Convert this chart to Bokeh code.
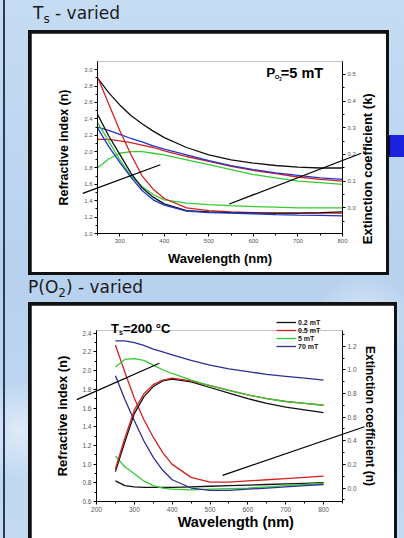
import math
from bokeh.plotting import figure
from bokeh.models import (Range1d, LinearAxis, FixedTicker, NumeralTickFormatter,
                          Label, Legend, LegendItem, Div, Column, Row, GridBox)
from bokeh.embed import file_html
from bokeh.resources import INLINE

# ---------------- Panel 1: Ts varied, P_O2 = 5 mT ----------------
wl1 = [250, 275, 300, 325, 350, 375, 400, 450, 500, 550, 600, 650, 700, 750, 800]
n_black1 = [2.90, 2.72, 2.57, 2.44, 2.34, 2.25, 2.17, 2.05, 1.96, 1.90, 1.86, 1.83, 1.81, 1.80, 1.80]
n_blue1 = [2.30, 2.26, 2.21, 2.16, 2.12, 2.07, 2.03, 1.96, 1.89, 1.83, 1.78, 1.74, 1.71, 1.68, 1.66]
n_red1 = [2.15, 2.15, 2.13, 2.11, 2.08, 2.05, 2.01, 1.94, 1.88, 1.82, 1.77, 1.73, 1.69, 1.66, 1.64]
n_green1 = [1.80, 1.91, 1.98, 2.00, 2.00, 1.98, 1.96, 1.90, 1.84, 1.78, 1.72, 1.68, 1.64, 1.62, 1.60]
k_red1 = [0.49, 0.39, 0.29, 0.20, 0.12, 0.07, 0.035, 0.0, -0.01, -0.015, -0.018, -0.02, -0.02, -0.02, -0.02]
k_black1 = [0.35, 0.27, 0.20, 0.13, 0.075, 0.04, 0.015, -0.01, -0.015, -0.018, -0.02, -0.02, -0.02, -0.018, -0.015]
k_blue1 = [0.30, 0.23, 0.17, 0.115, 0.065, 0.03, 0.01, -0.012, -0.018, -0.02, -0.022, -0.025, -0.027, -0.028, -0.03]
k_green1 = [0.32, 0.25, 0.18, 0.12, 0.08, 0.05, 0.03, 0.018, 0.012, 0.008, 0.005, 0.003, 0.0, 0.0, 0.0]

x_range1 = (250, 800)
n_range1 = (1.0, 3.10)
k_range1 = (-0.096, 0.548)
x_ticks1 = [300, 400, 500, 600, 700, 800]
x_minor1 = [250, 350, 450, 550, 650, 750]
n_ticks1 = [1.0, 1.2, 1.4, 1.6, 1.8, 2.0, 2.2, 2.4, 2.6, 2.8, 3.0]
n_minor1 = [1.1, 1.3, 1.5, 1.7, 1.9, 2.1, 2.3, 2.5, 2.7, 2.9]
k_ticks1 = [-0.1, 0.0, 0.1, 0.2, 0.3, 0.4, 0.5]
k_minor1 = [-0.05, 0.05, 0.15, 0.25, 0.35, 0.45]

# pointer lines (wavelength, n) panel 1
ptr1a_x = [217, 391]
ptr1a_y = [1.49, 1.84]
ptr1b_x = [546, 842]
ptr1b_y = [1.36, 1.98]

# ---------------- Panel 2: P(O2) varied, Ts = 200 C ----------------
wl2 = [250, 275, 300, 325, 350, 375, 400, 450, 500, 550, 600, 650, 700, 750, 800]
n_blue2 = [2.32, 2.32, 2.30, 2.27, 2.23, 2.20, 2.17, 2.11, 2.06, 2.02, 1.99, 1.96, 1.94, 1.92, 1.90]
n_green2 = [2.04, 2.12, 2.13, 2.11, 2.06, 2.01, 1.97, 1.90, 1.84, 1.79, 1.74, 1.70, 1.67, 1.65, 1.63]
n_red2 = [0.95, 1.28, 1.58, 1.75, 1.85, 1.90, 1.92, 1.89, 1.84, 1.79, 1.74, 1.70, 1.67, 1.65, 1.63]
n_black2 = [0.92, 1.24, 1.54, 1.72, 1.83, 1.89, 1.91, 1.88, 1.82, 1.76, 1.70, 1.65, 1.61, 1.58, 1.55]
k_red2 = [1.21, 0.98, 0.76, 0.58, 0.43, 0.30, 0.20, 0.09, 0.05, 0.05, 0.06, 0.07, 0.08, 0.09, 0.10]
k_blue2 = [0.95, 0.75, 0.57, 0.40, 0.26, 0.15, 0.07, 0.0, -0.02, -0.02, -0.01, 0.0, 0.01, 0.02, 0.03]
k_green2 = [0.27, 0.18, 0.12, 0.06, 0.02, 0.0, -0.01, -0.015, -0.01, -0.005, 0.0, 0.01, 0.02, 0.03, 0.04]
k_black2 = [0.06, 0.02, 0.01, 0.005, 0.005, 0.005, 0.005, 0.01, 0.015, 0.02, 0.025, 0.03, 0.035, 0.04, 0.045]
legend2 = ["0.2 mT", "0.5 mT", "5 mT", "70 mT"]

x_range2 = (200, 850)
n_range2 = (0.6, 2.43)
k_range2 = (-0.114, 1.333)
x_ticks2 = [200, 300, 400, 500, 600, 700, 800]
x_minor2 = [250, 350, 450, 550, 650, 750, 850]
n_ticks2 = [0.6, 0.8, 1.0, 1.2, 1.4, 1.6, 1.8, 2.0, 2.2, 2.4]
n_minor2 = [0.7, 0.9, 1.1, 1.3, 1.5, 1.7, 1.9, 2.1, 2.3]
k_ticks2 = [0.0, 0.2, 0.4, 0.6, 0.8, 1.0, 1.2]
k_minor2 = [-0.1, 0.1, 0.3, 0.5, 0.7, 0.9, 1.1, 1.3]

ptr2a_x = [148, 366]
ptr2a_y = [1.69, 2.08]
ptr2b_x = [533, 908]
ptr2b_y = [0.88, 1.40]

BLACK = "#111111"
RED = "#d42020"
BLUE = "#2233cc"
GREEN = "#33cc33"
NAVY = "#2e2e99"
FONT = "Liberation Sans"
LW = 1.3


def style_axis(ax, ticks, minor, lab_size, tick_size, standoff, fmt="0.0"):
    ax.ticker = FixedTicker(ticks=ticks, minor_ticks=minor)
    ax.formatter = NumeralTickFormatter(format=fmt)
    ax.axis_line_color = "black"
    ax.axis_line_width = 1
    ax.major_tick_out = 3
    ax.major_tick_in = 0
    ax.minor_tick_out = 2
    ax.minor_tick_in = 0
    ax.major_tick_line_color = "black"
    ax.minor_tick_line_color = "black"
    ax.major_label_text_font = FONT
    ax.major_label_text_font_size = tick_size
    ax.major_label_text_color = "#555555"
    ax.major_label_standoff = 2
    ax.axis_label_text_font = FONT
    ax.axis_label_text_font_style = "bold"
    ax.axis_label_text_font_size = lab_size
    ax.axis_label_text_color = "black"
    ax.axis_label_standoff = standoff


def make_main(w, h, b, xr, nr, kr, margin, x_label, right_label):
    p = figure(width=w, height=h, x_range=Range1d(*xr), y_range=Range1d(*nr),
               output_backend="svg", toolbar_location=None,
               min_border_left=b[0], min_border_right=b[1], min_border_top=b[2], min_border_bottom=b[3],
               x_axis_label=x_label, y_axis_label="Refractive index (n)")
    p.frame_align = False
    p.extra_y_ranges = {"k": Range1d(*kr)}
    p.grid.visible = False
    p.outline_line_color = None
    p.background_fill_color = "white"
    p.border_fill_color = "white"
    p.margin = margin
    ax = LinearAxis(y_range_name="k", axis_label=right_label)
    p.add_layout(ax, "right")
    return p, ax


def make_overlay(w, h, b, xr, nr, margin):
    # transparent figure covering the whole canvas with the same data mapping,
    # so that annotations can reach beyond the frame of the main plot
    fw = w - b[0] - b[1]
    fh = h - b[2] - b[3]
    dx = (xr[1] - xr[0]) / fw
    dy = (nr[1] - nr[0]) / fh
    o = figure(width=w, height=h,
               x_range=Range1d(xr[0] - b[0] * dx, xr[1] + b[1] * dx),
               y_range=Range1d(nr[0] - b[3] * dy, nr[1] + b[2] * dy),
               output_backend="svg", toolbar_location=None, min_border=0,
               x_axis_location=None, y_axis_location=None)
    o.frame_align = False
    o.grid.visible = False
    o.outline_line_color = None
    o.background_fill_alpha = 0
    o.border_fill_alpha = 0
    o.margin = margin
    return o


def bold_label(fig, x, y, text, size, dx=0, dy=0, angle=0.0, align="left", baseline="alphabetic"):
    fig.add_layout(Label(x=x, y=y, x_offset=dx, y_offset=dy, text=text, angle=angle,
                         text_align=align, text_baseline=baseline, text_color="black",
                         text_font=FONT, text_font_style="bold", text_font_size=size))


# ---------------- figure 1 ----------------
W1, H1, B1 = 355, 239, (66, 44, 28, 39)
p1, ax_r1 = make_main(W1, H1, B1, x_range1, n_range1, k_range1, 3, "Wavelength (nm)", "")
style_axis(p1.xaxis[0], x_ticks1, x_minor1, "13px", "6px", 5, "0")
style_axis(p1.yaxis[0], n_ticks1, n_minor1, "12.5px", "6px", 10)
style_axis(ax_r1, k_ticks1, k_minor1, "13px", "6px", 2)

p1.line(wl1, n_black1, color=BLACK, line_width=LW)
p1.line(wl1, n_green1, color=GREEN, line_width=LW)
p1.line(wl1, n_red1, color=RED, line_width=LW)
p1.line(wl1, n_blue1, color=BLUE, line_width=LW)
p1.line(wl1, k_green1, color=GREEN, line_width=LW, y_range_name="k")
p1.line(wl1, k_red1, color=RED, line_width=LW, y_range_name="k")
p1.line(wl1, k_black1, color=BLACK, line_width=LW, y_range_name="k")
p1.line(wl1, k_blue1, color=BLUE, line_width=LW, y_range_name="k")

o1 = make_overlay(W1, H1, B1, x_range1, n_range1, 3)
o1.line(ptr1a_x, ptr1a_y, color="black", line_width=1.2)
o1.line(ptr1b_x, ptr1b_y, color="black", line_width=1.2)

lx1, ly1 = 629, 2.96
bold_label(o1, lx1, ly1, "P", "13.5px")
bold_label(o1, lx1, ly1, "O", "6px", dx=8.5, dy=-4)
bold_label(o1, lx1, ly1, "2", "4.5px", dx=13, dy=-6)
bold_label(o1, lx1, ly1, "=5 mT", "14.5px", dx=14.5)
# right axis title, placed where the original shows it
bold_label(o1, 856, 1.79, "Extinction coefficient (k)", "13px", angle=math.pi / 2, align="center", baseline="middle")

# ---------------- figure 2 ----------------
W2, H2, B2 = 363, 233, (65, 52, 25, 37)
p2, ax_r2 = make_main(W2, H2, B2, x_range2, n_range2, k_range2, (3, 3, 0, 3), "", "Extinction coefficient (n)")
style_axis(p2.xaxis[0], x_ticks2, x_minor2, "14.5px", "6.5px", 0, "0")
style_axis(p2.yaxis[0], n_ticks2, n_minor2, "13px", "6.5px", 9)
style_axis(ax_r2, k_ticks2, k_minor2, "12px", "6.5px", 3)

p2.line(wl2, k_black2, color=BLACK, line_width=LW, y_range_name="k")
p2.line(wl2, k_green2, color=GREEN, line_width=LW, y_range_name="k")
p2.line(wl2, k_blue2, color=NAVY, line_width=LW, y_range_name="k")
p2.line(wl2, k_red2, color=RED, line_width=LW, y_range_name="k")

o2 = make_overlay(W2, H2, B2, x_range2, n_range2, (3, 3, 0, 3))
# refractive-index curves drawn on the overlay (same mapping) so the legend can use them
r_nb = o2.line(wl2, n_black2, color=BLACK, line_width=LW)
r_nr = o2.line(wl2, n_red2, color=RED, line_width=LW)
r_ng = o2.line(wl2, n_green2, color=GREEN, line_width=LW)
r_nn = o2.line(wl2, n_blue2, color=NAVY, line_width=LW)
o2.line(ptr2a_x, ptr2a_y, color="black", line_width=1.2)
o2.line(ptr2b_x, ptr2b_y, color="black", line_width=1.2)

lx2, ly2 = 238, 2.45
bold_label(o2, lx2, ly2, "T", "13px")
bold_label(o2, lx2, ly2, "s", "7px", dx=8, dy=-4)
bold_label(o2, lx2, ly2, "=200 °C", "13px", dx=12)
# bottom axis title, placed where the original shows it
bold_label(o2, 568, 0.382, "Wavelength (nm)", "14.5px", align="center", baseline="middle")

leg = Legend(items=[LegendItem(label=lab, renderers=[r]) for lab, r in zip(legend2, [r_nb, r_nr, r_ng, r_nn])],
             location=(245, 188), background_fill_alpha=0, border_line_color=None,
             label_text_font=FONT, label_text_font_style="bold", label_text_font_size="7px",
             label_text_color="#111111",
             label_height=8, glyph_height=8, glyph_width=20, label_standoff=2, spacing=0,
             padding=2, margin=0)
o2.add_layout(leg, "center")

# ---------------- page layout ----------------
title1 = Div(text="T<sub style='font-size:12px'>s</sub> - varied", width=200, height=30, margin=(0, 0, 0, 33),
             styles={"font-family": "DejaVu Sans", "font-size": "17px", "color": "#1a1a1a", "line-height": "26px"})
title2 = Div(text="P(O<sub style='font-size:12px'>2</sub>) - varied", width=200, height=27, margin=(0, 0, 0, 28),
             styles={"font-family": "DejaVu Sans", "font-size": "17px", "color": "#1a1a1a", "line-height": "24px"})
box1 = GridBox(children=[(p1, 0, 0), (o1, 0, 0)], margin=(0, 0, 0, 28), styles={"background-color": "#111111"})
square = Div(text="", width=15, height=22, margin=(105, 0, 0, 0),
             styles={"background-color": "#1a22dd", "border-left": "1px solid #0b0b55"})
row1 = Row(children=[box1, square], spacing=0)
box2 = GridBox(children=[(p2, 0, 0), (o2, 0, 0)], margin=(0, 0, 0, 28), styles={"background-color": "#111111"})

root = Column(children=[title1, row1, title2, box2], width=404, height=538, spacing=0,
              styles={"background": "linear-gradient(90deg, rgba(0,0,0,0) 3px, #2b3a58 3px, #2b3a58 5px, rgba(0,0,0,0) 5px),"
                                    "radial-gradient(circle at 20% 30%, rgba(255,255,255,0.55) 0, rgba(255,255,255,0) 60px),"
                                    "radial-gradient(circle at 90% 60%, rgba(255,255,255,0.5) 0, rgba(255,255,255,0) 50px),"
                                    "radial-gradient(circle at 5% 80%, rgba(255,255,255,0.5) 0, rgba(255,255,255,0) 50px),"
                                    "linear-gradient(180deg, #c6dcf3 0%, #b7d1ee 50%, #c3daf2 100%)"})

open("out.html", "w").write(file_html(root, INLINE))
